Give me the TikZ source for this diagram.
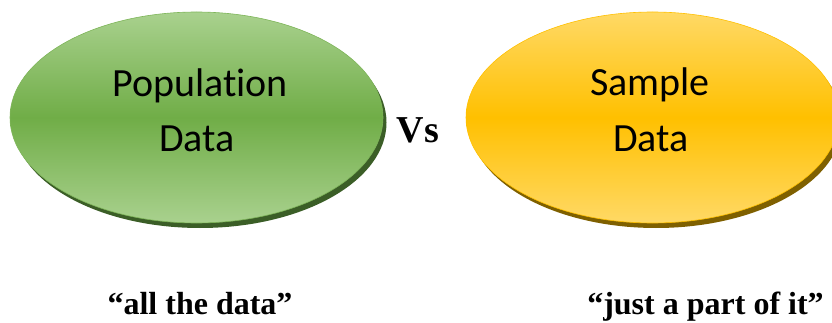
\documentclass[tikz,border=0pt]{standalone}
\usepackage{fontspec}
\setmainfont{Liberation Serif}
\newfontfamily\calibri[Ligatures={NoCommon,NoRare}]{Carlito}
\definecolor{gtop}{HTML}{A9D18E}
\definecolor{gmid}{HTML}{70AD47}
\definecolor{gshadow}{HTML}{3B5E27}
\definecolor{otop}{HTML}{FFD966}
\definecolor{omid}{HTML}{FFC000}
\definecolor{oshadow}{HTML}{7F6000}
\tikzset{
  inner/.style={font=\calibri\fontsize{40}{48}\selectfont, anchor=base, inner sep=0pt},
  caption/.style={font=\bfseries\fontsize{32}{38}\selectfont, anchor=base, inner sep=0pt},
}
\begin{document}
\begin{tikzpicture}[x=1pt,y=-1pt]
\useasboundingbox (0,0) rectangle (832,323);
\begin{scope}
\clip (0,0) rectangle (832,323);
% green ellipse
\fill[gshadow] (200,122.5) ellipse [x radius=186.5, y radius=105.5];
\shade[top color=gtop, bottom color=gtop, middle color=gmid, draw=gmid!90!white, line width=0.6pt]
  (196.5,117.5) ellipse [x radius=186.5, y radius=105.5];
% orange ellipse
\fill[oshadow] (656,122.5) ellipse [x radius=186.5, y radius=105.5];
\shade[top color=otop, bottom color=otop, middle color=omid, draw=omid, line width=0.6pt]
  (652.5,117.5) ellipse [x radius=186.5, y radius=105.5];
\end{scope}
\node[inner] (pop1) at (200,97) {Population};
\node[inner] (pop2) at (197,152) {Data};
\node[inner] (sam1) at (650,96) {Sample};
\node[inner] (sam2) at (651,152) {Data};
\node[caption, font=\bfseries\fontsize{38}{44}\selectfont] (vs) at (418,143) {Vs};
\node[caption] (all) at (200,314) {“all the data”};
\node[caption] (part) at (705.5,314) {“just a part of it”};
\end{tikzpicture}
\end{document}
